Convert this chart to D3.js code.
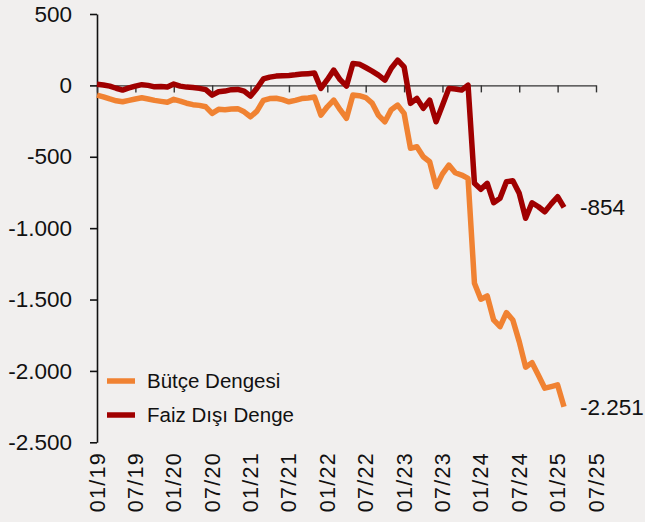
<!DOCTYPE html>
<html>
<head>
<meta charset="utf-8">
<script src="https://cdn.jsdelivr.net/npm/d3@7"></script>
<style>
  body { margin: 0; background: #f1efee; }
  svg { display: block; font-family: "Liberation Sans", Arial, sans-serif; }
</style>
</head>
<body>
<script>
// Monthly 12-month rolling balances, 01/19 .. 02/25 (billion TL)
const tickLabels = ["01/19", "07/19", "01/20", "07/20", "01/21", "07/21", "01/22",
                    "07/22", "01/23", "07/23", "01/24", "07/24", "01/25", "07/25"];
const seriesNames = ["Bütçe Dengesi", "Faiz Dışı Denge"];
const butceDengesi = [
  -68, -80, -95, -108, -115, -105, -95, -87, -95, -105, -112, -118,
  -98, -110, -125, -135, -140, -150, -196, -168, -170, -165, -163, -185,
  -220, -180, -105, -92, -90, -100, -115, -105, -92, -88, -82, -208,
  -150, -103, -170, -231, -68, -72, -85, -124, -210, -255, -170, -138,
  -196, -441, -430, -500, -535, -710, -620, -558, -612, -628, -651, -1386,
  -1498, -1475, -1643, -1690, -1592, -1643, -1795, -1974, -1942, -2030, -2121, -2110,
  -2098, -2251
];
const faizDisiDenge = [
  8, 3, -5, -20, -33, -18, -5, 5, 0, -10, -8, -12,
  9, -5, -12, -15, -21, -30, -68, -45, -40, -30, -28, -40,
  -75, -20, 45, 58, 65, 68, 70, 74, 79, 82, 86, -21,
  40, 107, 40, -5, 154, 149, 125, 100, 72, 37, 120, 177,
  130, -126, -91, -161, -103, -255, -140, -21, -25, -33, 2, -686,
  -728, -686, -822, -791, -675, -668, -756, -931, -822, -850, -885, -830,
  -780, -854
];
const colors = ["#f08232", "#a00000"];

const width = 645, height = 522;
const x0 = 97, x1 = 596, yTop = 14, yBot = 442.3;

const tr = d3.formatLocale({ decimal: ",", thousands: ".", grouping: [3], currency: ["", ""], minus: "-" });
const fmt = tr.format(",d");

const svg = d3.select("body").append("svg")
  .attr("width", width)
  .attr("height", height);

const x = d3.scaleLinear().domain([0, (tickLabels.length - 1) * 6]).range([x0, x1]);
const y = d3.scaleLinear().domain([-2500, 500]).range([yBot, yTop]);

// y axis
const yAxis = svg.append("g")
  .attr("transform", `translate(${x0},0)`)
  .call(d3.axisLeft(y).tickValues(d3.range(-2500, 501, 500)).tickSize(7).tickSizeOuter(0)
    .tickPadding(18).tickFormat(fmt));
yAxis.selectAll("text").attr("font-size", 22.5).attr("fill", "#111").attr("font-family", null);
yAxis.selectAll("line, path").attr("stroke", "#111").attr("stroke-width", 1.6);

// x axis sitting at zero
const xAxis = svg.append("g")
  .attr("transform", `translate(0,${y(0)})`)
  .call(d3.axisBottom(x).tickValues(tickLabels.map((d, i) => i * 6)).tickSize(7).tickSizeOuter(0)
    .tickFormat(""));
xAxis.selectAll("line, path").attr("stroke", "#333").attr("stroke-width", 1.4);

// x tick labels at the bottom, rotated
svg.append("g").selectAll("text")
  .data(tickLabels)
  .join("text")
  .attr("transform", (d, i) => `translate(${x(i * 6) + 7.5},452) rotate(-90)`)
  .attr("text-anchor", "end")
  .attr("font-size", 21.5)
  .attr("letter-spacing", 1.3)
  .attr("fill", "#111")
  .text(d => d);

// lines
const line = d3.line().x((d, i) => x(i)).y(d => y(d));
[butceDengesi, faizDisiDenge].forEach((s, k) => {
  svg.append("path")
    .datum(s)
    .attr("d", line)
    .attr("fill", "none")
    .attr("stroke", colors[k])
    .attr("stroke-width", 5.5)
    .attr("stroke-linejoin", "round");
});

// end labels
[butceDengesi, faizDisiDenge].forEach(s => {
  const n = s.length - 1;
  svg.append("text")
    .attr("x", x(n) + 16)
    .attr("y", y(s[n]) + 8)
    .attr("font-size", 22.5)
    .attr("fill", "#111")
    .text(fmt(s[n]));
});

// legend
const legend = svg.append("g").attr("transform", "translate(107,381)");
seriesNames.forEach((name, k) => {
  const g = legend.append("g").attr("transform", `translate(0,${k * 34})`);
  g.append("line").attr("x1", 0).attr("x2", 28)
    .attr("stroke", colors[k]).attr("stroke-width", 5.5);
  g.append("text").attr("x", 40).attr("y", 7)
    .attr("font-size", 20.5).attr("fill", "#111").text(name);
});
</script>
</body>
</html>
